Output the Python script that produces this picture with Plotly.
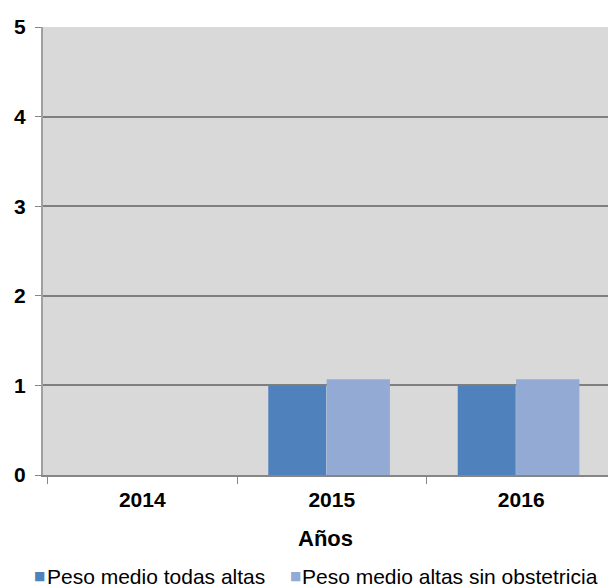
import plotly.graph_objects as go

# Data
years = ["2014", "2015", "2016"]
peso_todas = [None, 1.00, 1.00]
peso_sin_obst = [None, 1.07, 1.07]
y_ticks = [0, 1, 2, 3, 4, 5]

series_names = ["Peso medio todas altas", "Peso medio altas sin obstetricia"]
colors = ["#4F81BD", "#93AAD5"]

font_family = "Liberation Sans, Arial, sans-serif"

W, H = 608, 587
M_L, M_R, M_T, M_B = 43, 0, 27, 112


def px_to_paper(px, py):
    """Convert a pixel position in the page to paper coordinates."""
    return ((px - M_L) / (W - M_L - M_R), (H - M_B - py) / (H - M_T - M_B))


fig = go.Figure()
fig.add_trace(go.Bar(
    x=years, y=peso_todas, name=series_names[0],
    marker=dict(color=colors[0], line=dict(width=0)),
    width=0.306, offset=-0.335, showlegend=False,
))
fig.add_trace(go.Bar(
    x=years, y=peso_sin_obst, name=series_names[1],
    marker=dict(color=colors[1], line=dict(width=0)),
    width=0.334, offset=-0.027, showlegend=False,
))

# Legend row drawn as text: small coloured square followed by the series name
legend_items = [(32, 45), (288, 300)]
annotations = []
for (sq_x, txt_x), name, col in zip(legend_items, series_names, colors):
    sx, sy = px_to_paper(sq_x, 576)
    tx, ty = px_to_paper(txt_x, 576)
    annotations.append(dict(
        text="■", x=sx, y=sy, xref="paper", yref="paper",
        xanchor="left", yanchor="middle", showarrow=False,
        font=dict(size=12, color=col, family="DejaVu Sans"),
    ))
    annotations.append(dict(
        text=name, x=tx, y=ty, xref="paper", yref="paper",
        xanchor="left", yanchor="middle", showarrow=False,
        font=dict(size=21, color="#000000", family=font_family),
    ))

fig.update_layout(
    width=W, height=H,
    margin=dict(l=M_L, r=M_R, t=M_T, b=M_B),
    paper_bgcolor="white",
    plot_bgcolor="#D9D9D9",
    barmode="overlay",
    font=dict(family=font_family, color="#000000"),
    showlegend=False,
    annotations=annotations,
)

fig.update_xaxes(
    type="category",
    range=[-0.524, 2.458],
    showgrid=False,
    showline=True, linecolor="#868686", linewidth=2,
    ticks="outside", tickson="boundaries", ticklen=7, tickcolor="#868686", tickwidth=1,
    tickfont=dict(size=21, family=font_family, weight="bold"),
    ticklabelstandoff=5,
    title=dict(text="<b>Años</b>", font=dict(size=22, family=font_family), standoff=20),
    automargin=False,
)

fig.update_yaxes(
    range=[0, 5],
    tickvals=y_ticks,
    showgrid=True, gridcolor="#7F7F7F", gridwidth=2,
    zeroline=False,
    showline=True, linecolor="#A0A0A0", linewidth=2,
    ticks="outside", ticklen=6, tickcolor="#868686", tickwidth=1,
    tickfont=dict(size=21, family=font_family, weight="bold"),
    ticklabelstandoff=5,
    automargin=False,
)

fig.write_html("out.html")
